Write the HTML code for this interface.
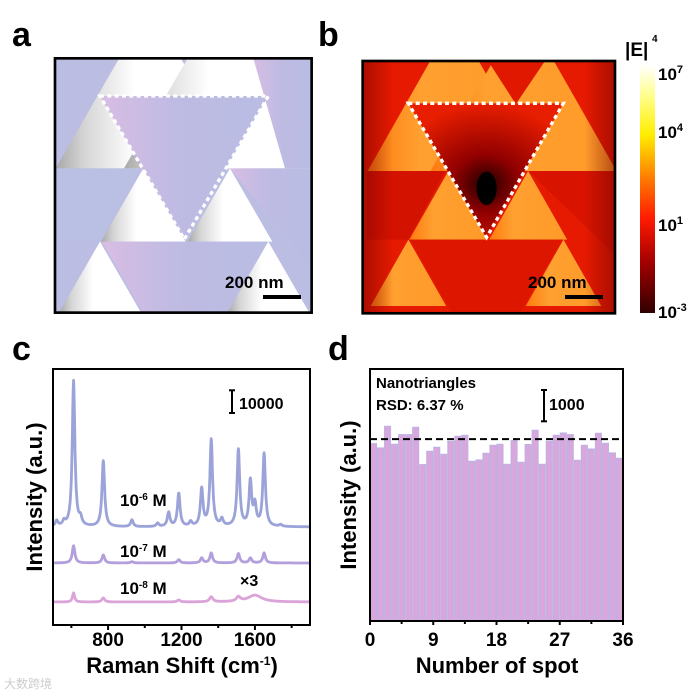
<!DOCTYPE html>
<html><head><meta charset="utf-8"><style>
body{margin:0;background:#fff;}
svg{display:block;font-family:"Liberation Sans","Noto Sans CJK SC",sans-serif;font-weight:bold;}
</style></head><body>
<svg id="fig" width="693" height="693" viewBox="0 0 693 693" xmlns="http://www.w3.org/2000/svg">
<defs>
<linearGradient id="wg" x1="0" y1="0" x2="1" y2="0"><stop offset="0" stop-color="#a8a8a8"/><stop offset="0.15" stop-color="#d5d5d5"/><stop offset="0.42" stop-color="#ffffff"/><stop offset="1" stop-color="#ffffff"/></linearGradient>
<linearGradient id="pg" x1="0" y1="0" x2="1" y2="0"><stop offset="0" stop-color="#d8bde3"/><stop offset="0.45" stop-color="#bfbbe3"/><stop offset="1" stop-color="#b9bce3"/></linearGradient>
<linearGradient id="og" x1="0" y1="0" x2="1" y2="0"><stop offset="0" stop-color="#ff7a10"/><stop offset="0.3" stop-color="#ffa030"/><stop offset="1" stop-color="#ff9a28"/></linearGradient>
<radialGradient id="rg" cx="0.5" cy="0.6" r="0.6"><stop offset="0" stop-color="#200000"/><stop offset="0.35" stop-color="#900000"/><stop offset="1" stop-color="#e81e00"/></radialGradient>
<linearGradient id="edge" x1="0" y1="0" x2="1" y2="0"><stop offset="0" stop-color="#700000" stop-opacity="0.5"/><stop offset="0.12" stop-color="#700000" stop-opacity="0"/><stop offset="0.88" stop-color="#700000" stop-opacity="0"/><stop offset="1" stop-color="#700000" stop-opacity="0.5"/></linearGradient>
<linearGradient id="cb" x1="0" y1="1" x2="0" y2="0"><stop offset="0" stop-color="#300000"/><stop offset="0.2" stop-color="#a00000"/><stop offset="0.38" stop-color="#ff1a00"/><stop offset="0.55" stop-color="#ff8000"/><stop offset="0.72" stop-color="#ffee00"/><stop offset="0.88" stop-color="#ffff90"/><stop offset="1" stop-color="#ffffff"/></linearGradient>
<clipPath id="ca"><rect x="165" y="175" width="770" height="763"/></clipPath>
<clipPath id="cbp"><rect x="68" y="183" width="757" height="757"/></clipPath>
</defs>

<text x="12" y="46" font-size="34">a</text>
<text x="318" y="46" font-size="34">b</text>
<text x="12" y="360" font-size="34">c</text>
<text x="328" y="360" font-size="34">d</text>

<g transform="scale(0.3333)">
 <g clip-path="url(#ca)">
  <rect x="165" y="175" width="770" height="763" fill="#bcbde3"/>
  <polygon points="450,15 167,505 733,505" fill="url(#wg)"/>
  <polygon points="675,-19 372,505 978,505" fill="url(#wg)"/>
  <polygon points="430,505 303,725 557,725" fill="url(#wg)"/>
  <polygon points="690,505 563,725 817,725" fill="url(#wg)"/>
  <polygon points="300,725 177,938 423,938" fill="url(#wg)"/>
  <polygon points="805,725 682,938 928,938" fill="url(#wg)"/>
  <polygon points="165,175 355,175 200,445 165,505" fill="#bcbde3"/>
  <polygon points="545,175 560,175 553,190" fill="#bcbde3"/>
  <polygon points="760,175 935,175 935,505 855,505" fill="url(#pg)"/>
  <polygon points="300,288 805,288 553,718" fill="url(#pg)"/>
  <polygon points="690,505 935,505 935,800" fill="url(#pg)"/>
  <polygon points="165,505 420,505 300,725 165,725" fill="#bac0e3"/>
  <polygon points="305,725 800,725 553,1150" fill="url(#pg)"/>
 </g>
 <polygon points="300,288 805,288 553,718" fill="none" stroke="#fff" stroke-width="10" stroke-dasharray="12,10"/>
 <rect x="165" y="175" width="770" height="763" fill="none" stroke="#000" stroke-width="8"/>
</g>
<text x="225" y="288" font-size="17">200 nm</text>
<rect x="263" y="295" width="38" height="4" fill="#000"/>

<g transform="translate(340,0) scale(0.3333)">
 <g clip-path="url(#cbp)">
  <rect x="68" y="183" width="757" height="757" fill="#e51a00"/>
  <g transform="translate(-71,41) scale(0.921,0.935)">
   <polygon points="450,15 167,505 733,505" fill="url(#og)"/>
   <polygon points="675,-19 372,505 978,505" fill="url(#og)"/>
   <polygon points="430,505 303,725 557,725" fill="url(#og)"/>
   <polygon points="690,505 563,725 817,725" fill="url(#og)"/>
   <polygon points="300,725 177,938 423,938" fill="url(#og)"/>
   <polygon points="805,725 682,938 928,938" fill="url(#og)"/>
   <polygon points="545,130 760,130 650,290" fill="#e01800"/>
   <polygon points="300,288 805,288 553,718" fill="url(#rg)"/>
   <polygon points="165,505 420,505 300,725 165,725" fill="#d41200"/>
   <polygon points="690,505 1000,505 1000,800" fill="#d81400"/>
   <polygon points="305,725 800,725 553,1150" fill="#dd1600"/>
  </g>
  <rect x="68" y="183" width="757" height="757" fill="url(#edge)"/>
  <ellipse cx="440" cy="565" rx="30" ry="50" fill="#000"/>
 </g>
 <polygon points="205,310 670,310 440,712" fill="none" stroke="#fff" stroke-width="10" stroke-dasharray="12,10"/>
 <rect x="68" y="183" width="757" height="757" fill="none" stroke="#000" stroke-width="8"/>
</g>
<text x="528" y="288" font-size="17">200 nm</text>
<rect x="565" y="295" width="38" height="4" fill="#000"/>
<rect x="640" y="65" width="15" height="248" fill="url(#cb)"/>
<text x="625" y="56" font-size="19">|E|</text>
<text x="652" y="42" font-size="10">4</text>
<text x="658" y="80" font-size="17">10<tspan dy="-7" font-size="11">7</tspan></text>
<text x="658" y="138" font-size="17">10<tspan dy="-7" font-size="11">4</tspan></text>
<text x="658" y="231" font-size="17">10<tspan dy="-7" font-size="11">1</tspan></text>
<text x="658" y="318" font-size="17">10<tspan dy="-7" font-size="11">-3</tspan></text>

<g id="pc"></g>
<g id="pd"></g>
<text x="4" y="688" font-size="12" fill="#ccc" font-weight="normal">大数跨境</text>
</svg>
<script>
const ramanRange = [500, 1900];
const ramanTicks = [800, 1200, 1600];
const ramanMinorTicks = [600, 1000, 1400, 1800];
const peaks6Pos = [520, 560, 612, 650, 774, 930, 1070, 1130, 1185, 1250, 1310, 1362, 1420, 1510, 1575, 1600, 1650, 1740];
const peaks6Amp = [2500, 2000, 64300, 3000, 29000, 3000, 1500, 6200, 14700, 2000, 16400, 38200, 3000, 33800, 19800, 9000, 32000, 800];
const peaks7Pos = [612, 774, 930, 1185, 1310, 1362, 1510, 1575, 1650];
const peaks7Amp = [7600, 3500, 600, 1500, 2200, 4400, 4100, 2200, 4400];
const peaks8Pos = [612, 774, 1185, 1362, 1510, 1600];
const peaks8Amp = [4000, 1800, 900, 2200, 2000, 3000];
const peaks8Width = [7, 9, 9, 11, 13, 45];
const scaleBarC = 10000;

const spotTicks = [0, 9, 18, 27, 36];
const spotValues = [5670,5532,6224,5650,5958,5958,6192,5000,5426,5553,5330,5745,5905,5936,5106,5149,5362,5617,5650,5010,5766,5074,5640,6096,5010,5745,5936,6011,5958,5138,5617,5500,6000,5681,5373,5202];
const spotMean = 5810;
const scaleBarD = 1000;

const NS = "http://www.w3.org/2000/svg";
function mk(tag, attrs, parent, txt){const e=document.createElementNS(NS,tag);for(const k in attrs)e.setAttribute(k,attrs[k]);if(txt!==undefined)e.textContent=txt;parent.appendChild(e);return e;}

(function(){
 const g=document.getElementById('pc');
 const L=53,R=310,T=369,B=625;
 const xs=v=>L+(v-ramanRange[0])/(ramanRange[1]-ramanRange[0])*(R-L);
 const pxPer=22.7/10000;
 function spec(pos,amp,wid,base,color,name){
  let d='';
  for(let w=ramanRange[0];w<=ramanRange[1];w+=2){
   let s=0;for(let i=0;i<pos.length;i++){const hw=wid?wid[i]:8.5;s+=amp[i]/(1+((w-pos[i])/hw)**2);}
   d+=(d?'L':'M')+xs(w).toFixed(1)+','+(base-s*pxPer).toFixed(1);
  }
  const p=mk('path',{d:d,fill:'none',stroke:color,'stroke-width':2.8,'stroke-linejoin':'round'},g);
  
  
 }
 spec(peaks6Pos,peaks6Amp,null,527,'#9ba3d9','spectrum-1e-6');
 spec(peaks7Pos,peaks7Amp,null,563,'#b29fdb','spectrum-1e-7');
 spec(peaks8Pos,peaks8Amp,peaks8Width,602,'#dba4d9','spectrum-1e-8');
 const fr=mk('rect',{x:L,y:T,width:R-L,height:B-T,fill:'none',stroke:'#000','stroke-width':2},g);
 
 
 ramanTicks.forEach(v=>{
  mk('line',{x1:xs(v),x2:xs(v),y1:B,y2:B+5,stroke:'#000','stroke-width':2},g);
  const t=mk('text',{x:xs(v),y:646,'font-size':19,'text-anchor':'middle'},g,String(v));
  
  
 });
 ramanMinorTicks.forEach(v=>{mk('line',{x1:xs(v),x2:xs(v),y1:B,y2:B+3,stroke:'#000','stroke-width':2},g);});
 const sbH=scaleBarC*pxPer;
 const sb=mk('line',{x1:232,x2:232,y1:413-sbH,y2:413,stroke:'#000','stroke-width':2},g);
 
 
 mk('line',{x1:229,x2:235,y1:413-sbH,y2:413-sbH,stroke:'#000','stroke-width':2},g);
 mk('line',{x1:229,x2:235,y1:413,y2:413,stroke:'#000','stroke-width':2},g);
 mk('text',{x:239,y:409,'font-size':16},g,String(scaleBarC));
 const lab=[['10','-6',120,506,'label-1e-6'],['10','-7',120,557,'label-1e-7'],['10','-8',120,594,'label-1e-8']];
 lab.forEach(l=>{const t=mk('text',{x:l[2],y:l[3],'font-size':17},g);
  mk('tspan',{},t,l[0]);mk('tspan',{dy:-6,'font-size':10},t,l[1]);mk('tspan',{dy:6},t,' M');});
 const x3=mk('text',{x:240,y:586,'font-size':16},g,'×3');
 
 
 const yl=mk('text',{x:0,y:0,'font-size':22,'text-anchor':'middle',transform:'translate(42,497) rotate(-90)'},g,'Intensity (a.u.)');
 
 
 const xl=mk('text',{x:182,y:673,'font-size':22,'text-anchor':'middle'},g);
 
 
 mk('tspan',{},xl,'Raman Shift (cm');mk('tspan',{dy:-8,'font-size':12},xl,'-1');mk('tspan',{dy:8},xl,')');
})();

(function(){
 const g=document.getElementById('pd');
 const L=370,R=623,T=369,B=621;
 const xs=v=>L+v/36*(R-L);
 const pxPer=31.3/1000;
 const ys=v=>B-v*pxPer;
 spotValues.forEach((v,i)=>{
  const b=mk('rect',{x:xs(i)+0.4,y:ys(v),width:xs(1)-xs(0)-0.8,height:B-ys(v),fill:'#d8a7dc',stroke:'#b7b3e6','stroke-width':0.8},g);
  
  
 });
 const ml=mk('line',{x1:L,x2:R,y1:ys(spotMean),y2:ys(spotMean),stroke:'#000','stroke-width':2,'stroke-dasharray':'7,4'},g);
 
 
 const fr=mk('rect',{x:L,y:T,width:R-L,height:B-T,fill:'none',stroke:'#000','stroke-width':2},g);
 
 
 spotTicks.forEach(v=>{
  mk('line',{x1:xs(v),x2:xs(v),y1:B,y2:B+4,stroke:'#000','stroke-width':2},g);
  const t=mk('text',{x:xs(v),y:646,'font-size':19,'text-anchor':'middle'},g,String(v));
  
  
 });
 [4.5,13.5,22.5,31.5].forEach(v=>{mk('line',{x1:xs(v),x2:xs(v),y1:B,y2:B+3,stroke:'#000','stroke-width':2},g);});
 const t1=mk('text',{x:376,y:388,'font-size':15},g,'Nanotriangles');
 
 
 const t2=mk('text',{x:376,y:410,'font-size':15},g,'RSD: 6.37 %');
 
 
 const h=scaleBarD*pxPer;
 const sb=mk('line',{x1:544,x2:544,y1:390,y2:390+h,stroke:'#000','stroke-width':2},g);
 
 
 mk('line',{x1:541,x2:547,y1:390,y2:390,stroke:'#000','stroke-width':2},g);
 mk('line',{x1:541,x2:547,y1:390+h,y2:390+h,stroke:'#000','stroke-width':2},g);
 mk('text',{x:549,y:410,'font-size':16},g,String(scaleBarD));
 const yl=mk('text',{x:0,y:0,'font-size':22,'text-anchor':'middle',transform:'translate(356,495) rotate(-90)'},g,'Intensity (a.u.)');
 
 
 const xl=mk('text',{x:497,y:673,'font-size':22,'text-anchor':'middle'},g,'Number of spot');
 
 
})();
</script>
</body></html>
